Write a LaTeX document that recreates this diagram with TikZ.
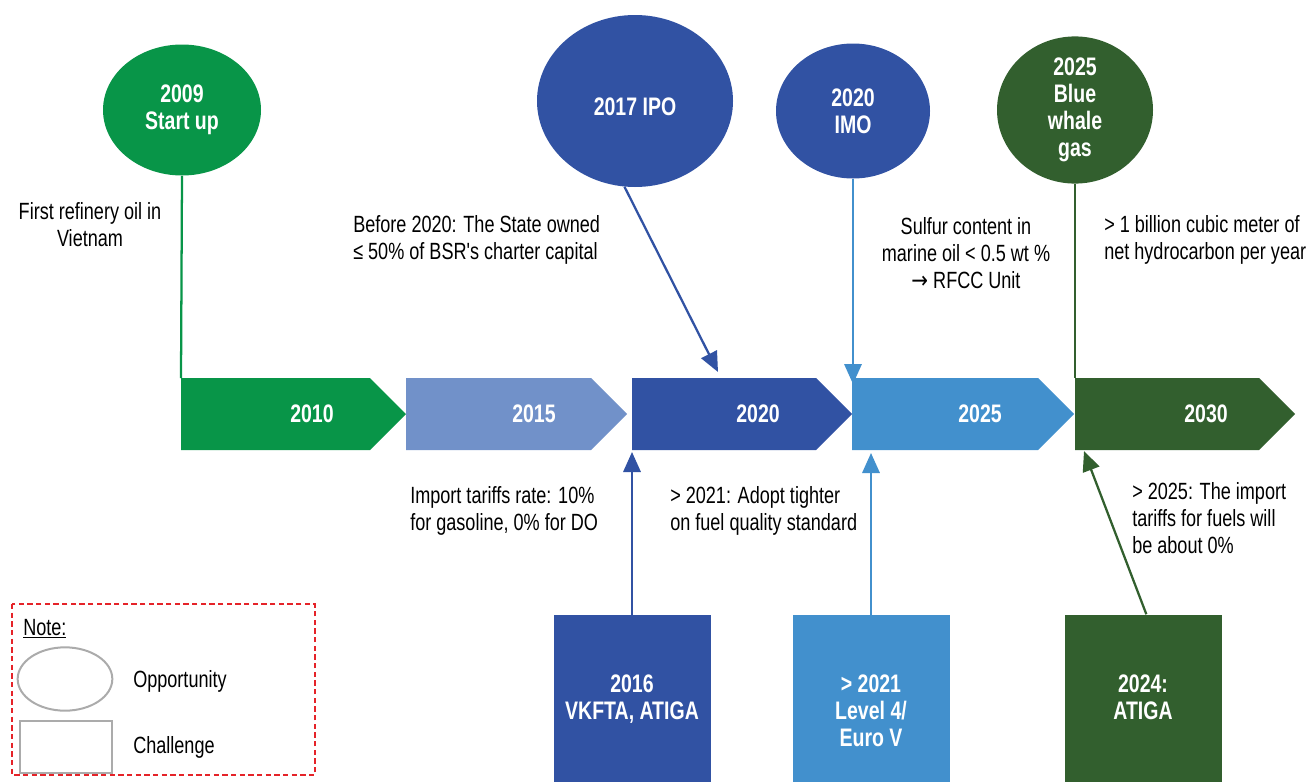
\documentclass[tikz,border=0pt]{standalone}
\usepackage{fontspec}
\setmainfont{Liberation Sans}[FakeStretch=0.77]
\newfontfamily\plainfont{Liberation Sans}[FakeStretch=0.77]
\newfontfamily\arrowfont{DejaVu Sans}[FakeStretch=0.85]
\usetikzlibrary{shapes.geometric,arrows.meta}
\definecolor{cgreen}{HTML}{089548}
\definecolor{cpale}{HTML}{7191C9}
\definecolor{cblue}{HTML}{3152A3}
\definecolor{clight}{HTML}{4290CD}
\definecolor{cdgreen}{HTML}{325F2E}
\definecolor{cgray}{HTML}{ABABAB}
\definecolor{cred}{HTML}{E52329}
\tikzset{
  body/.style={font=\fontsize{17.6}{20.25}\selectfont, inner sep=0pt, text=black},
  wlabel/.style={font=\bfseries\fontsize{19}{20.25}\selectfont, inner sep=0pt, text=white, align=center},
  opp/.style={ellipse, inner sep=0pt, draw=none, fill=#1},
  chal/.style={rectangle, inner sep=0pt, draw=none, fill=#1, minimum width=117.75pt, minimum height=125.25pt},
  conn/.style={line width=1.7pt, draw=#1},
  arrowline/.style={line width=1.7pt, draw=#1, fill=#1, -{Triangle[width=13pt,length=15pt]}},
}
\begin{document}
\begin{tikzpicture}[x=0.75pt,y=-0.75pt]
\useasboundingbox (0,0) rectangle (1314,782);

% timeline chevrons
\fill[cgreen]  (181,378) -- (370,378) -- (406,414) -- (370,450) -- (181,450) -- cycle;
\fill[cpale]   (406,378) -- (591,378) -- (627,414) -- (591,450) -- (406,450) -- cycle;
\fill[cblue]   (632,378) -- (816,378) -- (852,414) -- (816,450) -- (632,450) -- cycle;
\fill[clight]  (852,378) -- (1038,378) -- (1074,414) -- (1038,450) -- (852,450) -- cycle;
\fill[cdgreen] (1075,378) -- (1259,378) -- (1295,414) -- (1259,450) -- (1075,450) -- cycle;
\node[wlabel] (y2010) at (312,414) {2010};
\node[wlabel] (y2015) at (534,414) {2015};
\node[wlabel] (y2020) at (758,414) {2020};
\node[wlabel] (y2025) at (980,414) {2025};
\node[wlabel] (y2030) at (1206,414) {2030};

% connector end points on the timeline
\coordinate (c2009) at (181,378);
\coordinate (c2017) at (718,372);
\coordinate (c2020) at (853,384);
\coordinate (c2025) at (1075,378);
\coordinate (c2016) at (632,452);
\coordinate (c2021) at (871,453);
\coordinate (c2024) at (1084,451);

% opportunities
\node[opp=cgreen, minimum width=118.5pt, minimum height=98.25pt, wlabel] (e2009) at (182,110) {2009\\Start up};
\node[opp=cblue, minimum width=147pt, minimum height=129pt, wlabel] (e2017) at (635,101) {\raisebox{-11pt}[0pt][0pt]{2017 IPO}};
\node[opp=cblue, minimum width=115.5pt, minimum height=101.25pt, wlabel] (e2020) at (853,111) {2020\\IMO};
\node[opp=cdgreen, minimum width=117pt, minimum height=98.25pt, wlabel] (e2025) at (1075,110) {2025\\Blue\\whale\\gas};

\draw[conn=cgreen] (e2009.south) -- (c2009);
\draw[arrowline=cblue] (e2017.263) -- (c2017);
\draw[arrowline=clight] (e2020.south) -- (c2020);
\draw[conn=cdgreen] (e2025.south) -- (c2025);

% challenges
\node[chal=cblue] (b2016) at (632,698.5) {};
\node[chal=clight] (b2021) at (871,698.5) {};
\node[chal=cdgreen] (b2024) at (1143,698) {};
\node[wlabel, anchor=north] (t2016) at (632,675) {2016\\VKFTA, ATIGA};
\node[wlabel, anchor=north] (t2021) at (871,675) {> 2021\\Level 4/\\Euro V};
\node[wlabel, anchor=north] (t2024) at (1143,675) {2024:\\ATIGA};

\draw[arrowline=cblue] (b2016.north) -- (c2016);
\draw[arrowline=clight] (b2021.north) -- (c2021);
\draw[arrowline=cdgreen] ([xshift=2.5pt]b2024.north) -- (c2024);

% texts
\node[body, align=center] (n1) at (90,225) {First refinery oil in\\Vietnam};
\node[body, align=left, anchor=west] (n2) at (353,240) {Before 2020: The State owned\\≤ 50\% of BSR{\plainfont '}s charter capital};
\node[body, align=center] (n3) at (966,253) {Sulfur content in\\marine oil < 0.5 wt \%\\{\arrowfont →} RFCC Unit};
\node[body, align=left, anchor=west] (n4) at (1104,240) {> 1 billion cubic meter of\\net hydrocarbon per year};
\node[body, align=left, anchor=west] (n5) at (410,511) {Import tariffs rate: 10\%\\for gasoline, 0\% for DO};
\node[body, align=left, anchor=west] (n6) at (670,511) {> 2021: Adopt tighter\\on fuel quality standard};
\node[body, align=left, anchor=west] (n7) at (1132,518) {> 2025: The import\\tariffs for fuels will\\be about 0\%};

% legend
\draw[cred, line width=1.5pt, dash pattern=on 4pt off 2.5pt] (12,604) rectangle (315,775);
\node[body, anchor=west] (note) at (23,629) {\underline{Note:}};
\node[ellipse, draw=cgray, line width=1.5pt, minimum width=71pt, minimum height=47.5pt, inner sep=0pt] (lopp) at (65,679) {};
\node[rectangle, draw=cgray, line width=1.5pt, minimum width=69pt, minimum height=38.5pt, inner sep=0pt] (lchal) at (66,747) {};
\node[body, anchor=west] (topp) at (133,681) {Opportunity};
\node[body, anchor=west] (tchal) at (133,747) {Challenge};
\end{tikzpicture}
\end{document}
